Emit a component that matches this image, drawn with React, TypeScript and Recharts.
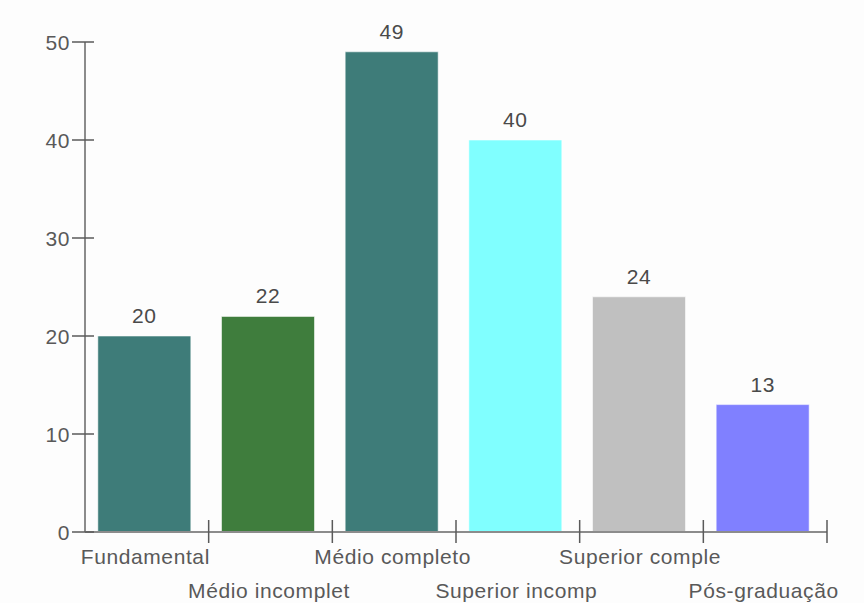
import React from "react";
import { BarChart, Bar, XAxis, YAxis, Cell, LabelList, Rectangle } from "recharts";

// Education level distribution
const categories = [
  "Fundamental",
  "Médio incomplet",
  "Médio completo",
  "Superior incomp",
  "Superior comple",
  "Pós-graduação",
];
const counts = [20, 22, 49, 40, 24, 13];
const barColors = ["#3e7c79", "#3f7d3d", "#3e7c79", "#80ffff", "#c0c0c0", "#8080ff"];
const yTicks = [0, 10, 20, 30, 40, 50];

const data = categories.map((name, i) => ({ name, value: counts[i] }));

const CHART_W = 864;
const CHART_H = 603;
const MARGIN = { top: 42, right: 37, left: 0, bottom: 0 };
const Y_AXIS_W = 85;
const X_AXIS_H = 71;
const PLOT_W = CHART_W - MARGIN.left - MARGIN.right - Y_AXIS_W;
const BAND = PLOT_W / categories.length;
// bars sit slightly left of the band centre
const BAR_NUDGE = -2.5;

const FONT = "'Liberation Sans', Arial, sans-serif";
const TEXT_COLOR = "#595959";
const AXIS_COLOR = "#8c8c8c";
const TICK_COLOR = "#5a5a5a";

const YTick = (props: any) => {
  const { x, y, payload } = props;
  return (
    <g>
      <line x1={x - 13} x2={x + 9} y1={y} y2={y} stroke={TICK_COLOR} strokeWidth={1.5} />
      <text
        x={x - 15}
        y={y + 7.5}
        textAnchor="end"
        fill={TEXT_COLOR}
        fontFamily={FONT}
        fontSize={21}
        letterSpacing={0.6}
      >
        {payload.value}
      </text>
    </g>
  );
};

const XTick = (props: any) => {
  const { x, y, payload, index } = props;
  const edge = x + BAND / 2;
  const baseline = index % 2 === 0 ? y + 32 : y + 66;
  return (
    <g>
      <line x1={edge} x2={edge} y1={y - 12} y2={y + 11} stroke={TICK_COLOR} strokeWidth={1.5} />
      <text
        x={x - 1.5}
        y={baseline}
        textAnchor="middle"
        fill={TEXT_COLOR}
        fontFamily={FONT}
        fontSize={21}
        letterSpacing={0.6}
      >
        {payload.value}
      </text>
    </g>
  );
};

const BarShape = (props: any) => <Rectangle {...props} x={props.x + BAR_NUDGE} />;

const ValueLabel = (props: any) => {
  const { x, y, width, value } = props;
  return (
    <text
      x={x + width / 2 + BAR_NUDGE}
      y={y - 13}
      textAnchor="middle"
      fill="#4a4a4a"
      fontFamily={FONT}
      fontSize={21}
      letterSpacing={0.6}
    >
      {value}
    </text>
  );
};

export default function App() {
  return (
    <div style={{ position: "absolute", left: 0, top: 0, width: CHART_W, height: CHART_H, background: "#fdfdfd" }}>
      <BarChart width={CHART_W} height={CHART_H} data={data} margin={MARGIN} barCategoryGap="12.4%">
        <YAxis
          width={Y_AXIS_W}
          domain={[0, 50]}
          ticks={yTicks}
          interval={0}
          tickLine={false}
          tickSize={0}
          tickMargin={0}
          axisLine={{ stroke: AXIS_COLOR, strokeWidth: 2 }}
          tick={<YTick />}
        />
        <XAxis
          dataKey="name"
          height={X_AXIS_H}
          interval={0}
          tickLine={false}
          tickSize={0}
          tickMargin={0}
          axisLine={{ stroke: AXIS_COLOR, strokeWidth: 2 }}
          tick={<XTick />}
        />
        <Bar
          dataKey="value"
          isAnimationActive={false}
          stroke="#ffffff"
          strokeOpacity={0.55}
          strokeWidth={1}
          shape={<BarShape />}
        >
          {data.map((d, i) => (
            <Cell key={d.name} fill={barColors[i]} />
          ))}
          <LabelList dataKey="value" content={<ValueLabel />} />
        </Bar>
      </BarChart>
    </div>
  );
}
